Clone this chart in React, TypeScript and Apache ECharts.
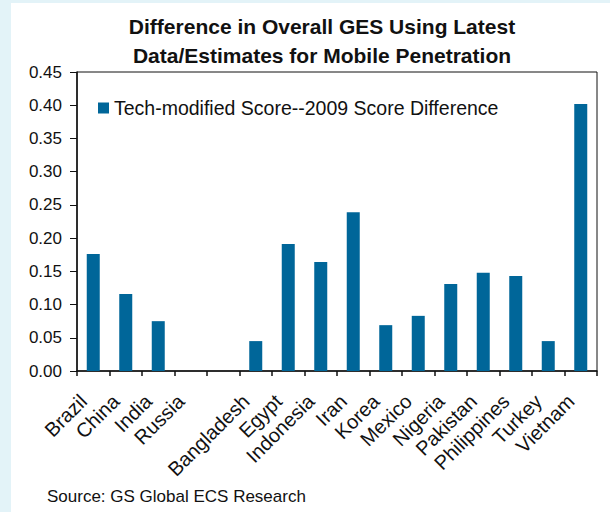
import React, { useEffect, useRef } from "react";
import * as echarts from "echarts";

const categories = [
  "Brazil", "China", "India", "Russia", "",
  "Bangladesh", "Egypt", "Indonesia", "Iran", "Korea", "Mexico",
  "Nigeria", "Pakistan", "Philippines", "Turkey", "Vietnam",
];
const values: (number | null)[] = [
  0.176, 0.116, 0.075, 0, null,
  0.045, 0.191, 0.164, 0.239, 0.069, 0.083,
  0.131, 0.148, 0.143, 0.045, 0.402,
];
const seriesName = "Tech-modified Score--2009 Score Difference";
const titleLines = ["Difference in Overall GES Using Latest", "Data/Estimates for Mobile Penetration"];
const sourceText = "Source: GS Global ECS Research";

const FONT = "'Liberation Sans', Arial, sans-serif";

export default function App() {
  const ref = useRef<HTMLDivElement>(null);
  useEffect(() => {
    if (!ref.current) return;
    const chart = echarts.init(ref.current, null, { renderer: "svg" });
    chart.setOption({
      animation: false,
      backgroundColor: "#e3f3f8",
      textStyle: { fontFamily: FONT },
      graphic: [
        { type: "rect", z: -10, shape: { x: 11, y: 3, width: 610, height: 520 }, style: { fill: "#ffffff" } },
        {
          type: "text", x: 322, y: 12,
          style: {
            text: titleLines.join("\n"), fontFamily: FONT, fontSize: 21, fontWeight: "bold",
            fill: "#111", align: "center", lineHeight: 29,
          },
        },
        {
          type: "text", x: 47, y: 488,
          style: { text: sourceText, fontFamily: FONT, fontSize: 17, fill: "#111" },
        },
      ],
      legend: {
        left: 93, top: 93,
        itemWidth: 11, itemHeight: 11, itemGap: 4,
        icon: "rect",
        textStyle: { fontSize: 19.5, color: "#111", fontFamily: FONT },
        data: [seriesName],
      },
      grid: {
        left: 77, top: 72, width: 520, height: 299,
        show: true, borderColor: "#111", borderWidth: 1, backgroundColor: "transparent",
        containLabel: false,
      },
      xAxis: {
        type: "category",
        data: categories,
        axisLine: { lineStyle: { color: "#111", width: 1.5 } },
        axisTick: { show: true, length: 5, alignWithLabel: false, lineStyle: { color: "#111", width: 1.5 } },
        axisLabel: {
          interval: 0, rotate: 45, fontSize: 20, color: "#111", margin: 17, fontFamily: FONT,
          padding: [0, 14, 0, 0],
        },
        splitLine: { show: false },
      },
      yAxis: {
        type: "value",
        min: 0, max: 0.45, interval: 0.05,
        axisLine: { show: true, lineStyle: { color: "#111", width: 1.5 } },
        axisTick: { show: true, length: 7, lineStyle: { color: "#111", width: 1 } },
        axisLabel: {
          fontSize: 17, color: "#111", margin: 15, fontFamily: FONT,
          formatter: (v: number) => v.toFixed(2),
        },
        splitLine: { show: false },
      },
      series: [
        {
          name: seriesName,
          type: "bar",
          data: values,
          barWidth: 13,
          itemStyle: { color: "#006699" },
        },
      ],
    });
    return () => chart.dispose();
  }, []);
  return <div ref={ref} style={{ position: "fixed", left: 0, top: 0, width: 610, height: 512 }} />;
}
